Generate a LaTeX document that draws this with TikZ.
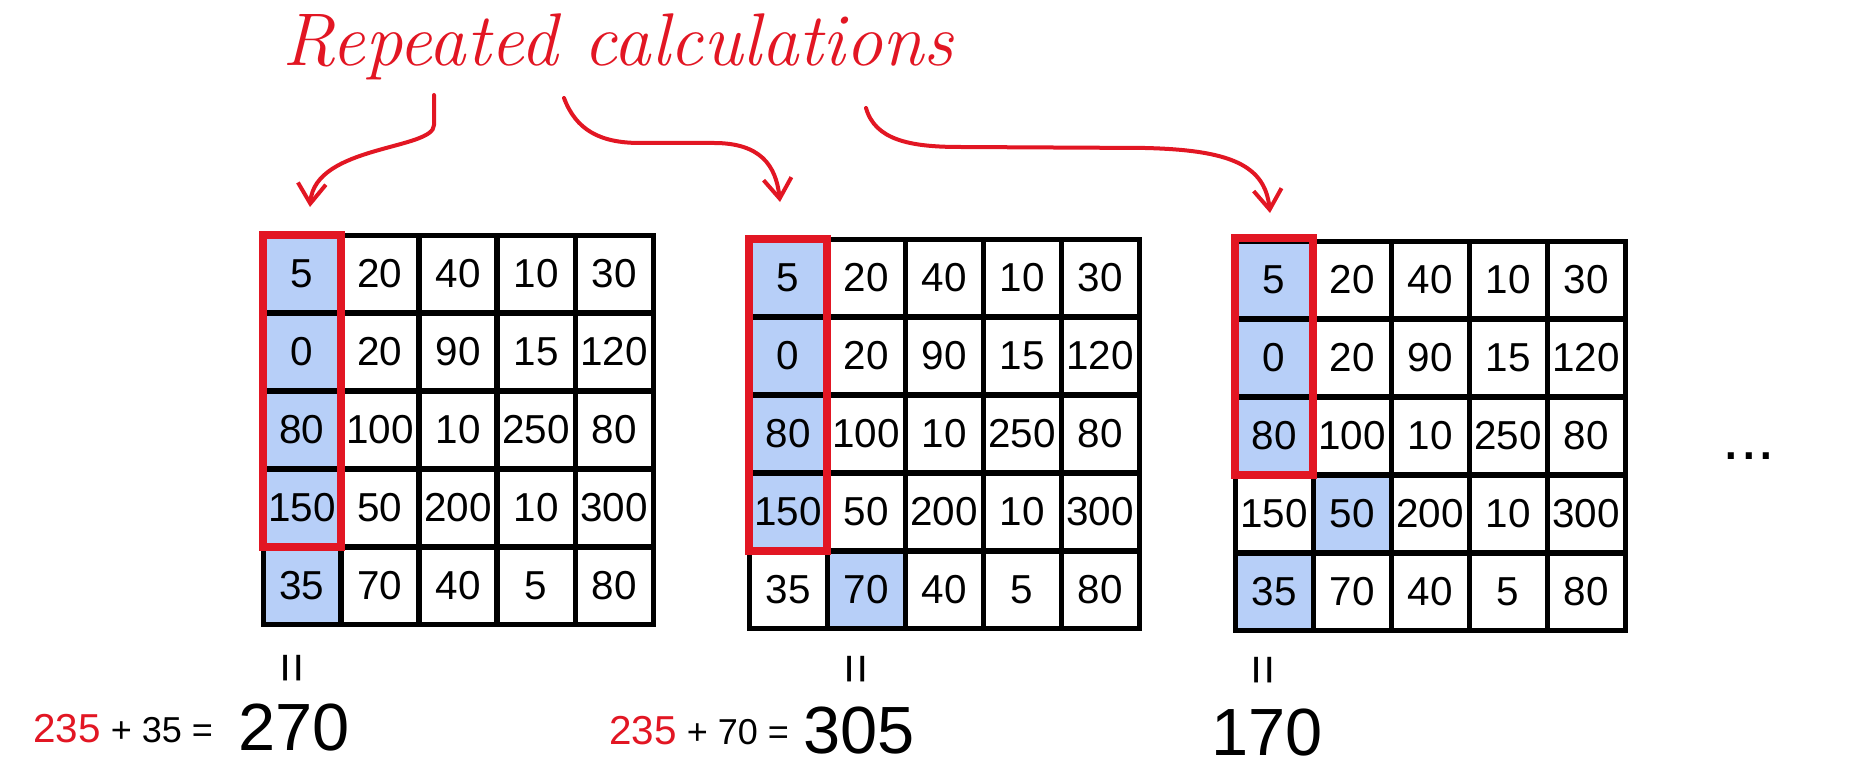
\documentclass[tikz,border=0pt]{standalone}
\usepackage{fontspec}
\newfontfamily\cellfont{Liberation Sans}
\usetikzlibrary{arrows.meta, backgrounds, calc}
\definecolor{myred}{RGB}{226, 22, 35}
\definecolor{myblue}{RGB}{183, 207, 248}
\tikzset{>={Straight Barb[length=0.4cm, width=0.56cm]}}
\tikzset{cell/.style = {draw, line width = 0.1cm, minimum width = 1.56cm, minimum height = 1.56cm, inner sep = 0pt, outer sep = 0pt, font = \cellfont\fontsize{23}{24}\selectfont},
  redbox/.style = {myred, line width = 0.16cm},
  hand/.style = {myred, line width = 0.08cm, line cap = round, line join = round, ->},
  eqsign/.style = {rotate = 90, inner sep = 0pt, font = \cellfont\fontsize{30}{32}\selectfont},
  sumtext/.style = {anchor = base west, inner sep = 0pt, font = \cellfont\fontsize{23}{24}\selectfont},
  result/.style = {anchor = base west, inner sep = 0pt, font = \cellfont\fontsize{38}{40}\selectfont}}
\newcommand{\numgrid}[3]{%
  \foreach \row [count=\r from 0] in {{5,20,40,10,30},{0,20,90,15,120},{80,100,10,250,80},{150,50,200,10,300},{35,70,40,5,80}} {
    \foreach \v [count=\c from 0] in \row {
      \node[cell] (#1-\r-\c) at ({#2+78*\c}, {#3+78*\r}) {\v};
    }
  }
}

\begin{document}
\begin{tikzpicture}[x = 0.02cm, y = -0.02cm]
\useasboundingbox (0,0) rectangle (1872,776);
\numgrid{ga}{302}{274}
\numgrid{gb}{788}{278}
\numgrid{gc}{1274}{280}
\begin{scope}[on background layer]
\foreach \r in {0,...,4} \fill[myblue] (ga-\r-0.north west) rectangle (ga-\r-0.south east);
\foreach \r in {0,...,3} \fill[myblue] (gb-\r-0.north west) rectangle (gb-\r-0.south east);
\fill[myblue] (gb-4-1.north west) rectangle (gb-4-1.south east);
\foreach \c/\r in {0/0, 0/1, 0/2, 1/3, 0/4} \fill[myblue] (gc-\r-\c.north west) rectangle (gc-\r-\c.south east);
\end{scope}
\draw[redbox] (ga-0-0.north west) rectangle (ga-3-0.south east);
\draw[redbox] (gb-0-0.north west) rectangle (gb-3-0.south east);
\draw[redbox] ($(gc-0-0.north west)+(0,-3)$) rectangle (gc-2-0.south east);

\node[anchor = base west, text = myred, font = \itshape\fontsize{42.5}{44}\selectfont] (title) at (276,66) {Repeated calculations};
\coordinate (s1) at (434,95);
\coordinate (s2) at (564,98);
\coordinate (s3) at (866,108);
\coordinate (t1) at ($(ga-0-0.north)+(8,-28)$);
\coordinate (t2) at ($(gb-0-0.north)+(-8,-37)$);
\coordinate (t3) at ($(gc-0-0.north)+(-4,-28)$);
\draw[hand] (s1) -- (434,125) .. controls (434,150) and (315,145) .. (t1);
\draw[hand] (s2) .. controls (576,130) and (600,143) .. (640,143) -- (714,143) .. controls (760,143) and (776,165) .. (t2);
\draw[hand] (s3) .. controls (875,140) and (910,147) .. (960,147) -- (1145,148) .. controls (1230,150) and (1265,165) .. (t3);

\node[eqsign] (eqa) at (297,668) {=};
\node[eqsign] (eqb) at (861,669) {=};
\node[eqsign] (eqc) at (1268,670) {=};
\node[sumtext] (suma) at (33,742) {\textcolor{myred}{235}\fontsize{20.5}{22}\selectfont{} + 35 =};
\node[sumtext] (sumb) at (609,744) {\textcolor{myred}{235}\fontsize{20.5}{22}\selectfont{} + 70 =};
\node[result] (resa) at (238,750) {270};
\node[result] (resb) at (803,753) {305};
\node[result] (resc) at (1211,755) {170};
\node[font = \cellfont\fontsize{36}{38}\selectfont] (dots) at (1749,456) {...};
\end{tikzpicture}
\end{document}
